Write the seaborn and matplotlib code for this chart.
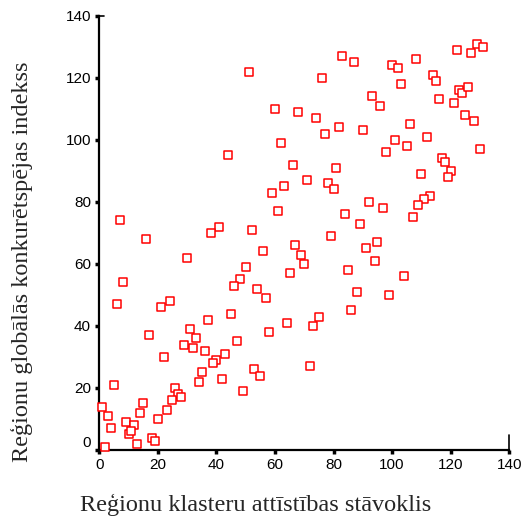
import matplotlib
matplotlib.use("Agg")
import matplotlib.pyplot as plt
import matplotlib.lines as mlines
import pandas as pd
import seaborn as sns

# ── Data ─────────────────────────────────────────────────────────────────────
cluster_dev = [
    7, 51, 60, 68, 62, 44, 66, 71, 63, 59, 61, 41, 38, 52,
    83, 87, 100, 102, 108, 76, 103, 93, 96, 74, 106, 82, 77, 90, 101, 105,
    98, 81, 78, 80, 92, 97, 84, 89, 107, 79,
    122, 129, 131, 127, 114, 115, 123, 124, 126, 116, 121, 125, 128, 112,
    130, 117, 118, 110, 120, 119, 113, 111, 109,
    16, 30, 8, 6, 21, 24, 31, 33, 29, 32, 37, 17, 22, 36, 35, 34, 5, 26,
    27, 28, 25, 1, 15, 14, 23, 3, 4, 20, 9, 12, 10, 11, 13, 18, 19, 2,
    67, 56, 69, 70, 50, 65, 48, 46, 54, 57, 45, 64, 58, 47, 43, 40, 39,
    42, 53, 55, 49, 72,
    91, 95, 85, 94, 104, 88, 99, 86, 75, 73,
]
competitiveness = [
    74, 122, 110, 109, 99, 95, 92, 87, 85, 83, 77, 72, 70, 71,
    127, 125, 124, 123, 126, 120, 118, 114, 111, 107, 105, 104, 102, 103, 100, 98,
    96, 91, 86, 84, 80, 78, 76, 73, 75, 69,
    129, 131, 130, 128, 121, 119, 116, 115, 117, 113, 112, 108, 106, 101,
    97, 94, 93, 89, 90, 88, 82, 81, 79,
    68, 62, 54, 47, 46, 48, 39, 36, 34, 33, 42, 37, 30, 32, 25, 22, 21, 20,
    18, 17, 16, 14, 15, 12, 13, 11, 7, 10, 9, 8, 5, 6, 2, 4, 3, 1,
    66, 64, 63, 60, 59, 57, 55, 53, 52, 49, 44, 41, 38, 35, 31, 29, 28,
    23, 26, 24, 19, 27,
    65, 67, 58, 61, 56, 51, 50, 45, 43, 40,
]
x_ticks = [0, 20, 40, 60, 80, 100, 120, 140]
y_ticks = [0, 20, 40, 60, 80, 100, 120, 140]

x_label = "Reģionu klasteru attīstības stāvoklis"
y_label = "Reģionu globālās konkurētspējas indekss"

df = pd.DataFrame({"x": cluster_dev, "y": competitiveness})

# ── Plot ─────────────────────────────────────────────────────────────────────
sns.set_style("white")
plt.rcParams["font.family"] = ["Liberation Sans", "DejaVu Sans"]
SERIF = ["Liberation Serif", "DejaVu Serif"]

fig = plt.figure(figsize=(5.25, 5.2), dpi=100)
ax = fig.add_axes([0.189, 0.1346, 0.781, 0.8352])

sns.scatterplot(data=df, x="x", y="y", marker="s", s=30,
                facecolor="white", edgecolor="#FF0000", linewidth=1.1,
                ax=ax, clip_on=False, zorder=3)

ax.set_xlim(0, 140)
ax.set_ylim(0, 140)
ax.set_xticks(x_ticks)
ax.set_yticks(y_ticks)
ax.set_xticklabels([str(t) for t in x_ticks])
ax.set_yticklabels([str(t) for t in y_ticks])
ax.tick_params(direction="out", length=3, width=2.5, labelsize=11,
               colors="black", pad=3, left=True, bottom=True)
# lift the "0" label on the y axis off the x axis, as in the reference
ax.get_yticklabels()[0].set_verticalalignment("bottom")

for side in ["top", "right"]:
    ax.spines[side].set_visible(False)
for side in ["left", "bottom"]:
    ax.spines[side].set_color("black")
    ax.spines[side].set_linewidth(1.6)

# small end caps at the far ends of the axes
ax.add_line(mlines.Line2D([0, 0.012], [1, 1], transform=ax.transAxes,
                          color="black", lw=1.2, clip_on=False))
ax.add_line(mlines.Line2D([1, 1], [0, 0.035], transform=ax.transAxes,
                          color="black", lw=1.2, clip_on=False))

ax.set_xlabel("")
ax.set_ylabel("")
# axis titles are centred on the figure, not on the axes
fig.text(0.486, 0.029, x_label, ha="center", va="center",
         fontsize=17.5, family=SERIF)
fig.text(0.042, 0.496, y_label, ha="center", va="center", rotation=90,
         fontsize=17.5, family=SERIF)

fig.savefig("out.png", dpi=100, facecolor="white")
plt.close(fig)
